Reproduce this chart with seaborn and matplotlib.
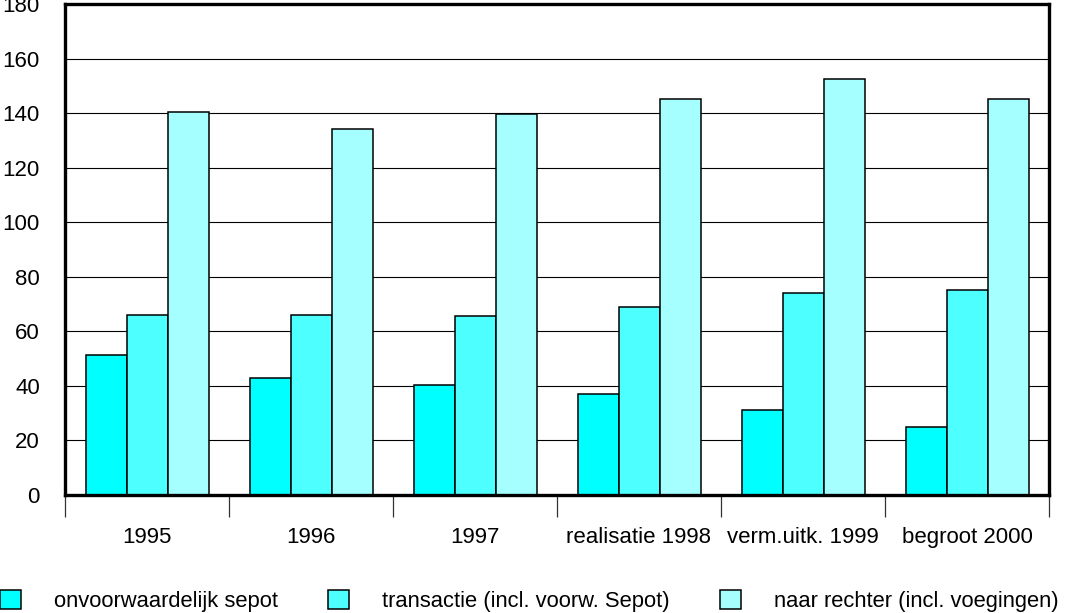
import pandas as pd
import numpy as np
import matplotlib.pyplot as plt
import seaborn as sns
from matplotlib.patches import Patch

# === Data ===
years = ['1995', '1996', '1997', 'realisatie 1998', 'verm.uitk. 1999', 'begroot 2000']
sepot = [51.5, 43, 40.5, 37, 31, 25]
transactie = [66, 66, 65.5, 69, 74, 75]
rechter = [140.5, 134, 139.5, 145, 152.5, 145]
series = ['onvoorwaardelijk sepot', 'transactie (incl. voorw. Sepot)', 'naar rechter (incl. voegingen)']
colors = ['#00FFFF', '#4DFFFF', '#A6FFFF']

df = pd.DataFrame({
    'jaar': years * 3,
    'serie': [series[0]] * 6 + [series[1]] * 6 + [series[2]] * 6,
    'aantal': sepot + transactie + rechter,
})

sns.set_style('white')
plt.rcParams['font.family'] = ['Liberation Sans', 'DejaVu Sans']
plt.rcParams['text.color'] = 'black'
plt.rcParams['xtick.color'] = 'black'
plt.rcParams['ytick.color'] = 'black'

fig = plt.figure(figsize=(10.77, 6.13), dpi=100)
ax = fig.add_axes([65 / 1077, 1 - 495 / 613, 984 / 1077, 491 / 613])

sns.barplot(data=df, x='jaar', y='aantal', hue='serie', palette=colors,
            width=0.75, edgecolor='black', linewidth=1.1, saturation=1,
            legend=False, ax=ax)

# === Axes styling ===
ax.set_ylim(0, 180)
ax.set_xlim(-0.5, 5.5)
ax.set_yticks(np.arange(0, 181, 20))
ax.yaxis.grid(True, color='black', linewidth=0.8)
ax.set_axisbelow(True)
ax.set_xlabel('')
ax.set_ylabel('')
for s in ax.spines.values():
    s.set_visible(True)
    s.set_linewidth(2.4)
    s.set_color('black')

ax.tick_params(axis='y', length=0, pad=18, labelsize=16)
ax.tick_params(axis='x', which='major', length=0, pad=23, labelsize=16)
ax.set_xticks(np.arange(-0.5, 6, 1), minor=True)
ax.tick_params(axis='x', which='minor', bottom=True, length=16, width=0.9,
               color='#333333', direction='out')

# === Legend ===
handles = [Patch(facecolor=c, edgecolor='black', linewidth=1.1) for c in colors]
fig.legend(handles, series, loc='center left', bbox_to_anchor=(0, 1 - 601 / 613),
           ncol=3, frameon=False, fontsize=15.8, handlelength=0.95, handleheight=0.95,
           handletextpad=1.5, columnspacing=2.3, borderpad=0, borderaxespad=0)

fig.savefig('out.png', dpi=100)
